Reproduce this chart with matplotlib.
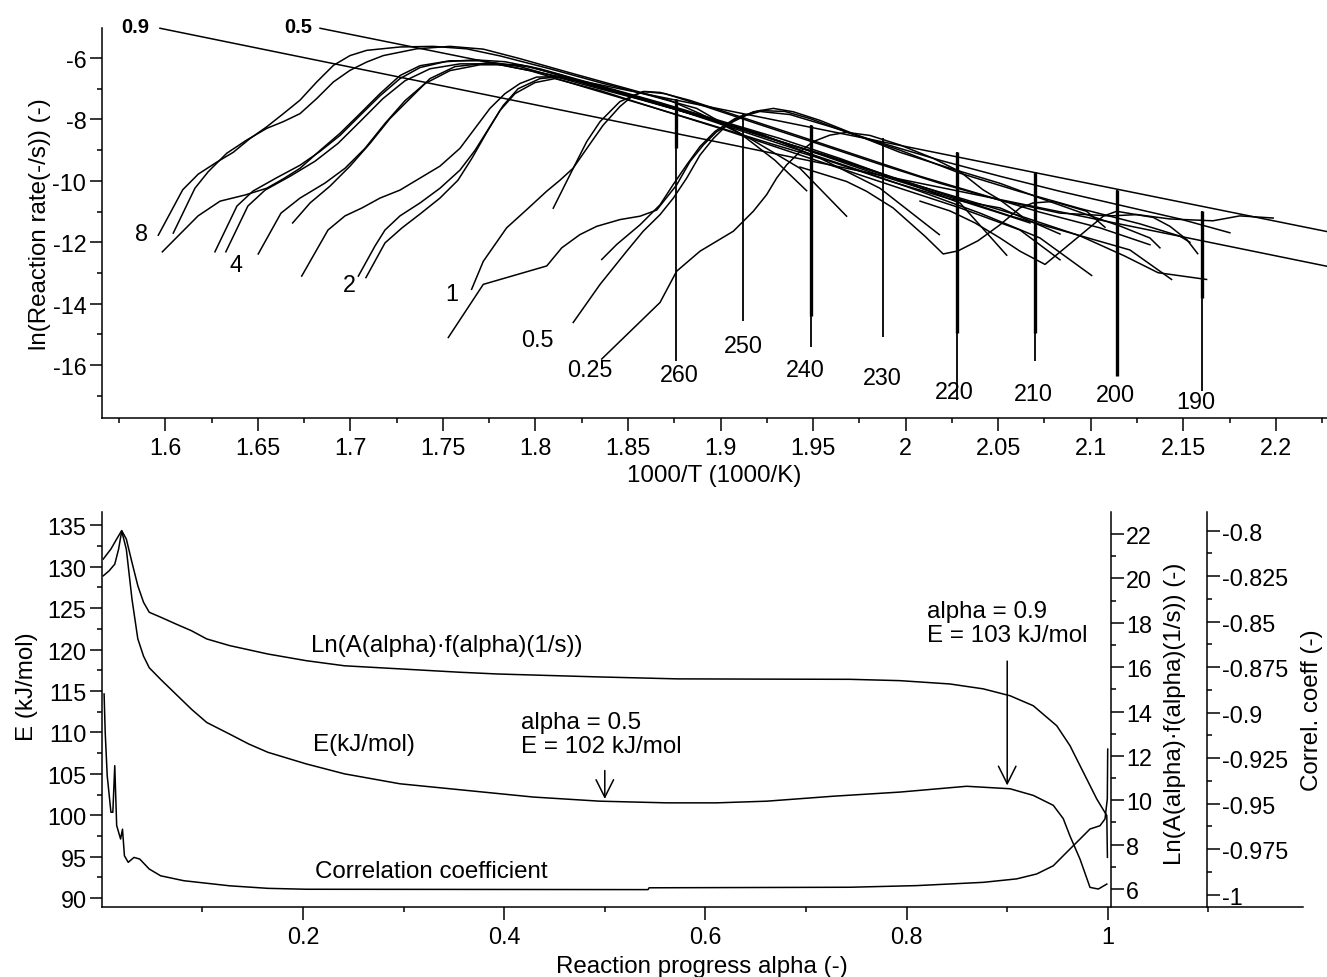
"""
Arrhenius plot of reaction rates (top) and isoconversional results (bottom)
"""

import matplotlib
matplotlib.use("Agg")
import matplotlib.pyplot as plt
from matplotlib.ticker import MultipleLocator, FormatStrFormatter, FixedLocator

plt.rcParams['font.family'] = ['Liberation Sans', 'DejaVu Sans']
plt.rcParams['axes.unicode_minus'] = False

# ---------------- top panel: ln(rate) vs 1000/T ----------------
# heating runs, 8 K/min
x_8a = [1.5962, 1.6094, 1.6178, 1.6278, 1.6367, 1.6458, 1.6548, 1.6638, 1.6728, 1.6818, 1.6908, 1.6998,
        1.7088, 1.7268, 1.7448, 1.7628, 1.7808, 1.8078, 1.8349, 1.8619, 1.8871, 1.9105, 1.9294, 1.9465]
y_8a = [-11.77, -10.29, -9.78, -9.39, -9.07, -8.62, -8.24, -7.81, -7.37, -6.78, -6.24, -5.92,
        -5.75, -5.64, -5.62, -5.70, -5.93, -6.35, -6.80, -7.22, -7.64, -8.45, -9.33, -10.32]
x_8b = [1.6043, 1.6160, 1.6232, 1.6332, 1.6440, 1.6548, 1.6638, 1.6728, 1.6818, 1.6908, 1.6998, 1.7088,
        1.7178, 1.7358, 1.7538, 1.7718, 1.7916, 1.8186, 1.8456, 1.8726, 1.8889, 1.9159, 1.9429, 1.9681]
y_8b = [-11.70, -10.24, -9.70, -9.10, -8.67, -8.29, -8.07, -7.81, -7.32, -6.78, -6.40, -6.13,
        -5.92, -5.70, -5.62, -5.71, -6.02, -6.48, -6.93, -7.38, -7.81, -8.62, -9.59, -11.15]
x_8c = [1.5984, 1.6177, 1.6296, 1.6431, 1.6548, 1.6636, 1.6728, 1.6836, 1.6944, 1.7052, 1.7160, 1.7268,
        1.7376, 1.7538, 1.7700, 1.7916, 1.8241, 1.8565, 1.8889, 1.9213, 1.9537, 1.9861, 2.0182]
y_8c = [-12.31, -11.14, -10.66, -10.46, -10.24, -9.94, -9.59, -9.01, -8.45, -7.81, -7.16, -6.57,
        -6.25, -6.09, -6.09, -6.28, -6.83, -7.35, -7.90, -8.46, -9.26, -10.24, -11.75]
# 4 K/min
x_4a = [1.6268, 1.6387, 1.6474, 1.6598, 1.6728, 1.6836, 1.6944, 1.7052, 1.7160, 1.7268, 1.7376, 1.7511,
        1.7673, 1.7835, 1.8024, 1.8349, 1.8673, 1.8997, 1.9321, 1.9645, 1.9969, 2.0294, 2.0546]
y_4a = [-12.31, -10.82, -10.33, -9.91, -9.49, -9.04, -8.52, -7.87, -7.23, -6.67, -6.31, -6.12,
        -6.06, -6.12, -6.35, -6.90, -7.45, -8.04, -8.62, -9.27, -9.98, -10.72, -12.42]
x_4b = [1.6327, 1.6446, 1.6539, 1.6674, 1.6809, 1.6933, 1.7052, 1.7176, 1.7295, 1.7430, 1.7592, 1.7781,
        1.7970, 1.8295, 1.8619, 1.8943, 1.9267, 1.9591, 1.9915, 2.0240, 2.0510, 2.0834]
y_4b = [-12.31, -10.82, -10.30, -9.85, -9.36, -8.78, -8.07, -7.32, -6.74, -6.35, -6.19, -6.19,
        -6.41, -7.00, -7.58, -8.17, -8.78, -9.36, -10.01, -10.59, -10.88, -11.73]
x_4c = [1.6502, 1.6625, 1.6728, 1.6863, 1.6971, 1.7079, 1.7187, 1.7295, 1.7403, 1.7538, 1.7700, 1.7916,
        1.8132, 1.8456, 1.8781, 1.9105, 1.9429, 1.9753, 2.0078, 2.0402, 2.0726, 2.1005]
y_4c = [-12.38, -11.05, -10.56, -10.07, -9.59, -8.94, -8.13, -7.39, -6.83, -6.41, -6.22, -6.22,
        -6.54, -7.13, -7.71, -8.36, -9.01, -9.66, -10.34, -11.05, -11.86, -13.08]
x_4d = [1.6688, 1.6782, 1.6890, 1.6998, 1.7106, 1.7214, 1.7322, 1.7430, 1.7565, 1.7754, 1.7970, 1.8295,
        1.8619, 1.8943, 1.9267, 1.9591, 1.9915, 2.0240, 2.0564, 2.0888, 2.1212, 2.1437]
y_4d = [-11.37, -10.72, -10.17, -9.52, -8.78, -7.97, -7.32, -6.67, -6.28, -6.15, -6.28, -6.87,
        -7.42, -8.00, -8.62, -9.20, -9.85, -10.49, -11.14, -11.69, -12.25, -13.21]
# 2 K/min
x_2a = [1.6737, 1.6879, 1.6971, 1.7063, 1.7160, 1.7268, 1.7376, 1.7484, 1.7592, 1.7673, 1.7754, 1.7835,
        1.7916, 1.8006, 1.8105, 1.8214, 1.8403, 1.8673, 1.8997, 1.9321, 1.9645, 1.9969, 2.0294, 2.0618,
        2.0942, 2.1181, 2.1364, 2.1626]
y_2a = [-13.10, -11.60, -11.14, -10.88, -10.56, -10.30, -9.91, -9.52, -8.94, -8.29, -7.64, -7.16,
        -6.83, -6.62, -6.61, -6.74, -7.06, -7.52, -8.10, -8.72, -9.33, -9.98, -10.56, -11.14,
        -11.79, -12.44, -12.99, -13.21]
x_2b = [1.7043, 1.7133, 1.7187, 1.7268, 1.7376, 1.7484, 1.7592, 1.7673, 1.7754, 1.7825, 1.7906, 1.8024,
        1.8132, 1.8295, 1.8565, 1.8889, 1.9213, 1.9537, 1.9861, 2.0186, 2.0510, 2.0672]
y_2b = [-13.10, -12.12, -11.60, -11.14, -10.72, -10.24, -9.65, -9.01, -8.23, -7.55, -7.00, -6.67,
        -6.61, -6.83, -7.29, -7.87, -8.49, -9.14, -9.82, -10.43, -11.05, -11.37]
x_2c = [1.7084, 1.7187, 1.7279, 1.7376, 1.7484, 1.7581, 1.7657, 1.7733, 1.7808, 1.7889, 1.7997, 1.8105,
        1.8349, 1.8673, 1.8997, 1.9321, 1.9645, 1.9969, 2.0294, 2.0618, 2.0834]
y_2c = [-13.15, -12.02, -11.53, -11.08, -10.56, -9.98, -9.26, -8.46, -7.71, -7.16, -6.80, -6.67,
        -7.06, -7.68, -8.29, -8.94, -9.59, -10.24, -10.88, -11.60, -12.57]
# 1 K/min
x_1a = [1.7655, 1.7718, 1.7844, 1.7952, 1.8060, 1.8132, 1.8203, 1.8278, 1.8365, 1.8456, 1.8527, 1.8592,
        1.8673, 1.8835, 1.9105, 1.9429, 1.9753, 2.0078, 2.0402, 2.0726, 2.1050, 2.1320]
y_1a = [-13.53, -12.62, -11.53, -10.94, -10.34, -9.98, -9.59, -8.94, -8.19, -7.58, -7.22, -7.09,
        -7.12, -7.38, -7.91, -8.55, -9.20, -9.85, -10.43, -11.02, -11.53, -12.08]
x_1b = [1.8096, 1.8204, 1.8277, 1.8349, 1.8456, 1.8581, 1.8700, 1.8889, 1.9213, 1.9537, 1.9861, 2.0186,
        2.0510, 2.0834, 2.1104, 2.1248, 2.1338, 2.1428, 2.1519, 2.1578]
y_1b = [-10.89, -9.59, -8.72, -8.07, -7.42, -7.09, -7.16, -7.52, -8.17, -8.81, -9.46, -10.08,
        -10.63, -11.05, -11.14, -11.10, -11.19, -11.48, -11.91, -12.37]
# 0.5 K/min
x_05a = [1.7529, 1.7718, 1.8061, 1.8142, 1.8240, 1.8331, 1.8457, 1.8565, 1.8655, 1.8763, 1.8835, 1.8907,
         1.8979, 1.9069, 1.9177, 1.9285, 1.9393, 1.9537, 1.9753, 1.9969, 2.0240, 2.0510, 2.0726, 2.0942,
         2.1158, 2.1320, 2.1374]
y_05a = [-15.10, -13.37, -12.77, -12.18, -11.75, -11.48, -11.26, -11.15, -10.95, -10.13, -9.37, -8.83,
         -8.40, -8.07, -7.75, -7.64, -7.75, -8.03, -8.55, -9.07, -9.59, -10.08, -10.56, -11.02,
         -11.47, -11.86, -12.18]
x_05b = [1.8204, 1.8349, 1.8493, 1.8582, 1.8673, 1.8745, 1.8817, 1.8889, 1.8961, 1.9033, 1.9105, 1.9213,
         1.9348, 1.9483, 1.9699, 1.9969, 2.0294, 2.0618, 2.0942, 2.1266, 2.1482, 2.1536]
y_05b = [-14.61, -13.37, -12.29, -11.64, -11.10, -10.56, -9.91, -9.16, -8.62, -8.19, -7.90, -7.71,
         -7.74, -7.97, -8.45, -9.00, -9.75, -10.35, -10.90, -11.40, -11.80, -12.00]
x_05c = [1.8358, 1.8439, 1.8565, 1.8673, 1.8743, 1.8817, 1.8889, 1.8970, 1.9078, 1.9213, 1.9375, 1.9591,
         1.9861, 2.0186, 2.0510, 2.0834, 2.1158, 2.1482, 2.1752]
y_05c = [-12.56, -12.07, -11.43, -10.78, -10.13, -9.48, -8.88, -8.39, -7.97, -7.74, -7.84, -8.23,
         -8.75, -9.33, -9.85, -10.34, -10.79, -11.24, -11.69]
# 0.25 K/min
x_025 = [1.8358, 1.8673, 1.8763, 1.8889, 1.9069, 1.9177, 1.9249, 1.9303, 1.9357, 1.9429, 1.9501, 1.9591,
         1.9681, 1.9807, 1.9969, 2.0147, 2.0294, 2.0418, 2.0510, 2.0627]
y_025 = [-15.80, -13.96, -12.94, -12.29, -11.64, -10.99, -10.45, -9.91, -9.48, -9.05, -8.72, -8.51,
         -8.42, -8.52, -8.83, -9.26, -9.70, -10.29, -10.62, -11.15]
# heat-up parts of the isothermal runs
x_ramp220 = [2.1077, 2.0978, 2.0798, 2.0688, 2.0618, 2.0510, 2.0391, 2.0283, 2.0203, 2.0104, 1.9932,
             1.9789, 1.9681, 1.9429]
y_ramp220 = [-11.51, -10.99, -10.67, -10.72, -10.88, -11.43, -11.95, -12.28, -12.38, -11.80, -10.88,
             -10.34, -10.02, -9.55]
x_ramp210 = [2.1986, 2.1806, 2.1660, 2.1428, 2.1228, 2.1140, 2.1068, 2.0906, 2.0753, 2.0618, 2.0510,
             2.0375, 2.0240, 2.0078]
y_ramp210 = [-11.21, -11.14, -11.30, -11.24, -11.08, -10.99, -11.15, -11.96, -12.72, -12.29, -11.86,
             -11.37, -10.98, -10.66]

# isothermal runs (vertical traces)
iso_labels = ['260', '250', '240', '230', '220', '210', '200', '190']
iso_x = [1.876, 1.912, 1.949, 1.988, 2.028, 2.070, 2.114, 2.160]
iso_top = [-7.32, -7.81, -8.18, -8.62, -9.05, -9.70, -10.29, -10.99]
iso_bottom = [-15.86, -14.56, -15.42, -15.08, -17.15, -15.86, -16.34, -16.83]
iso_dense_bottom = [-8.94, -7.81, -14.39, -8.62, -14.94, -14.94, -16.34, -13.80]

# isoconversional lines
line_09_x = [1.5971, 2.2276]
line_09_y = [-5.03, -12.78]
line_05_x = [1.6836, 2.2276]
line_05_y = [-5.03, -11.65]

# ---------------- bottom panel: results vs alpha ----------------
alpha_E = [0.0015, 0.0073, 0.0129, 0.0167, 0.0198, 0.0244, 0.0300, 0.0358, 0.0415, 0.0472, 0.0585, 0.0738,
           0.0891, 0.1043, 0.1270, 0.1461, 0.1651, 0.2032, 0.2412, 0.2964, 0.3792, 0.4289, 0.4952, 0.5615,
           0.6112, 0.6609, 0.7271, 0.7934, 0.8597, 0.9028, 0.9259, 0.9458, 0.9557, 0.9624, 0.9724, 0.9823,
           0.9906, 0.9990]
E_kJ = [128.9, 129.5, 130.3, 132.1, 134.3, 132.1, 126.1, 121.3, 119.2, 117.8, 116.4, 114.6,
        112.8, 111.2, 109.8, 108.6, 107.6, 106.2, 105.0, 103.8, 102.8, 102.2, 101.7, 101.5,
        101.5, 101.7, 102.3, 102.8, 103.5, 103.2, 102.4, 101.2, 99.6, 97.5, 94.7, 91.3,
        91.1, 91.7]

alpha_lnA = [0.0015, 0.0091, 0.0148, 0.0198, 0.0244, 0.0300, 0.0358, 0.0415, 0.0472, 0.0585, 0.0738, 0.0891,
             0.1043, 0.1270, 0.1651, 0.2032, 0.2412, 0.2964, 0.3553, 0.3933, 0.4922, 0.5720, 0.6500, 0.7437,
             0.7934, 0.8431, 0.8762, 0.9028, 0.9259, 0.9492, 0.9624, 0.9757, 0.9890, 0.9990, 0.9996]
lnA_f = [20.87, 21.32, 21.77, 22.15, 21.77, 20.72, 19.67, 18.92, 18.47, 18.25, 17.94, 17.64,
         17.27, 16.97, 16.59, 16.29, 16.06, 15.92, 15.77, 15.69, 15.56, 15.47, 15.46, 15.45,
         15.39, 15.24, 15.02, 14.71, 14.26, 13.36, 12.46, 11.26, 10.06, 9.31, 7.43]

alpha_corr = [0.0023, 0.0034, 0.0054, 0.0091, 0.0110, 0.0129, 0.0148, 0.0187, 0.0206, 0.0225, 0.0263, 0.0320,
              0.0377, 0.0472, 0.0585, 0.0814, 0.1270, 0.1651, 0.2032, 0.5430, 0.5440, 0.7437, 0.8100, 0.8762,
              0.9094, 0.9293, 0.9458, 0.9591, 0.9724, 0.9823, 0.9922, 0.9972, 0.9995, 0.9999]
corr = [-0.8897, -0.9108, -0.9346, -0.9547, -0.9547, -0.9291, -0.9620, -0.9694, -0.9640, -0.9786, -0.9822, -0.9795,
        -0.9804, -0.9859, -0.9896, -0.9923, -0.9951, -0.9965, -0.9970, -0.9972, -0.9962, -0.9959, -0.9950, -0.9932,
        -0.9913, -0.9886, -0.9841, -0.9767, -0.9694, -0.9639, -0.9621, -0.9584, -0.9474, -0.9200]

FS_TICK = 16.8
FS_TEXT = 17.4
LW = 1.1


def style_ticks(axis_obj, **kw):
    axis_obj.tick_params(which='major', direction='out', length=9, width=1.1, pad=2,
                         labelsize=FS_TICK, **kw)
    axis_obj.tick_params(which='minor', direction='out', length=3.8, width=1.1, **kw)


fig = plt.figure(figsize=(13.27, 9.78), dpi=100)

# ---- top ----
ax = fig.add_axes([0.0766, 0.5713, 0.9233, 0.3988])
rate_curves = [(x_8a, y_8a), (x_8b, y_8b), (x_8c, y_8c), (x_4a, y_4a), (x_4b, y_4b), (x_4c, y_4c),
               (x_4d, y_4d), (x_2a, y_2a), (x_2b, y_2b), (x_2c, y_2c), (x_1a, y_1a), (x_1b, y_1b),
               (x_05a, y_05a), (x_05b, y_05b), (x_05c, y_05c), (x_025, y_025),
               (x_ramp220, y_ramp220), (x_ramp210, y_ramp210)]
for xs, ys in rate_curves:
    ax.plot(xs, ys, color='black', lw=LW)
ax.plot(line_09_x, line_09_y, color='black', lw=LW, clip_on=False)
ax.plot(line_05_x, line_05_y, color='black', lw=LW, clip_on=False)
ax.vlines(iso_x, iso_bottom, iso_top, colors='black', lw=1.3)
ax.vlines(iso_x, iso_dense_bottom, iso_top, colors='black', lw=2.4)

ax.text(1.5836, -4.985, '0.9', fontsize=14.5, fontweight='bold', ha='center', va='center')
ax.text(1.6717, -4.985, '0.5', fontsize=14.5, fontweight='bold', ha='center', va='center')

# heating-rate labels (K/min)
for txt, (tx, ty) in zip(['8', '4', '2', '1', '0.5', '0.25'],
                         [(1.5873, -11.70), (1.6382, -12.72), (1.6994, -13.37),
                          (1.7547, -13.67), (1.8012, -15.15), (1.8291, -16.13)]):
    ax.text(tx, ty, txt, fontsize=FS_TICK, ha='center', va='center')
# isothermal labels (deg C)
iso_label_pos = [(1.8775, -16.29), (1.9121, -15.37), (1.9460, -16.15), (1.9876, -16.40),
                 (2.0261, -16.85), (2.0689, -16.91), (2.1131, -16.96), (2.1568, -17.17)]
for txt, (tx, ty) in zip(iso_labels, iso_label_pos):
    ax.text(tx, ty, txt, fontsize=FS_TICK, ha='center', va='center')

ax.set_xlim(1.5656, 2.2276)
ax.set_ylim(-17.73, -5.03)
ax.spines['top'].set_visible(False)
ax.spines['right'].set_visible(False)
for s in ('left', 'bottom'):
    ax.spines[s].set_linewidth(1.1)
ax.xaxis.set_major_locator(MultipleLocator(0.05))
ax.xaxis.set_minor_locator(MultipleLocator(0.025))
ax.xaxis.set_major_formatter(FormatStrFormatter('%g'))
ax.yaxis.set_major_locator(MultipleLocator(2))
ax.yaxis.set_minor_locator(MultipleLocator(1))
ax.yaxis.set_major_formatter(FormatStrFormatter('%g'))
style_ticks(ax)
ax.tick_params(axis='x', which='major', pad=4)
ax.set_xlabel('1000/T (1000/K)', fontsize=FS_TEXT)
ax.set_ylabel('ln(Reaction rate(-/s)) (-)', fontsize=FS_TEXT)
ax.xaxis.set_label_coords(0.5, -0.117)
ax.yaxis.set_label_coords(-0.0414, 0.5)

# ---- bottom ----
axb = fig.add_axes([0.0767, 0.0713, 0.9052, 0.4042])
axb.plot(alpha_E, E_kJ, color='black', lw=LW)
axb.set_xlim(0, 1.194)
axb.set_ylim(88.9, 136.6)
axb.spines['top'].set_visible(False)
axb.spines['right'].set_visible(False)
for s in ('left', 'bottom'):
    axb.spines[s].set_linewidth(1.1)
axb.xaxis.set_major_locator(FixedLocator([0.2, 0.4, 0.6, 0.8, 1.0]))
axb.xaxis.set_minor_locator(FixedLocator([0.1, 0.3, 0.5, 0.7, 0.9, 1.1]))
axb.xaxis.set_major_formatter(FormatStrFormatter('%g'))
axb.yaxis.set_major_locator(MultipleLocator(5))
axb.yaxis.set_minor_locator(MultipleLocator(2.5))
style_ticks(axb)
axb.tick_params(axis='x', which='major', pad=4)
axb.set_xlabel('Reaction progress alpha (-)', fontsize=FS_TEXT)
axb.set_ylabel('E (kJ/mol)', fontsize=FS_TEXT)
axb.xaxis.set_label_coords(0.4997, -0.121)
axb.yaxis.set_label_coords(-0.0531, 0.5606)

ax_ln = axb.twinx()
ax_ln.plot(alpha_lnA, lnA_f, color='black', lw=LW)
ax_ln.set_ylim(5.18, 22.99)
ax_ln.spines['right'].set_position(('axes', 0.8402))
for s in ('top', 'left', 'bottom'):
    ax_ln.spines[s].set_visible(False)
ax_ln.spines['right'].set_linewidth(1.1)
ax_ln.yaxis.set_major_locator(MultipleLocator(2))
ax_ln.yaxis.set_minor_locator(MultipleLocator(1))
ax_ln.yaxis.set_major_formatter(FormatStrFormatter('%g'))
style_ticks(ax_ln)
ax_ln.set_ylabel('Ln(A(alpha)\u00b7f(alpha)(1/s)) (-)', fontsize=FS_TEXT)
ax_ln.yaxis.set_label_coords(0.8843, 0.493)

ax_r = axb.twinx()
ax_r.plot(alpha_corr, corr, color='black', lw=LW)
ax_r.set_ylim(-1.0069, -0.7897)
ax_r.spines['right'].set_position(('axes', 0.9201))
for s in ('top', 'left', 'bottom'):
    ax_r.spines[s].set_visible(False)
ax_r.spines['right'].set_linewidth(1.1)
ax_r.yaxis.set_major_locator(MultipleLocator(0.025))
ax_r.yaxis.set_minor_locator(MultipleLocator(0.0125))
ax_r.yaxis.set_major_formatter(FormatStrFormatter('%g'))
style_ticks(ax_r)
ax_r.set_ylabel('Correl. coeff (-)', fontsize=FS_TEXT)
ax_r.yaxis.set_label_coords(0.9983, 0.5016)

# curve names and annotations
axb.text(0.2077, 120.5, 'Ln(A(alpha)\u00b7f(alpha)(1/s))', fontsize=FS_TEXT, ha='left', va='center')
axb.text(0.2096, 108.6, 'E(kJ/mol)', fontsize=FS_TEXT, ha='left', va='center')
axb.text(0.2115, 93.3, 'Correlation coefficient', fontsize=FS_TEXT, ha='left', va='center')

arrow_kw = dict(arrowstyle='->,head_length=0.9,head_width=0.45', color='black', lw=1.1,
                shrinkA=0, shrinkB=0, mutation_scale=14)
axb.text(0.4164, 112.6, 'alpha = 0.5\nE = 102 kJ/mol', fontsize=FS_TEXT, ha='left', va='top',
         linespacing=1.1)
axb.annotate('', xy=(0.5, 101.97), xytext=(0.5, 105.4), arrowprops=arrow_kw)
axb.text(0.8206, 126.0, 'alpha = 0.9\nE = 103 kJ/mol', fontsize=FS_TEXT, ha='left', va='top',
         linespacing=1.1)
axb.annotate('', xy=(0.9, 103.6), xytext=(0.9, 118.6), arrowprops=arrow_kw)

plt.savefig('out.png', dpi=100)
plt.close()
